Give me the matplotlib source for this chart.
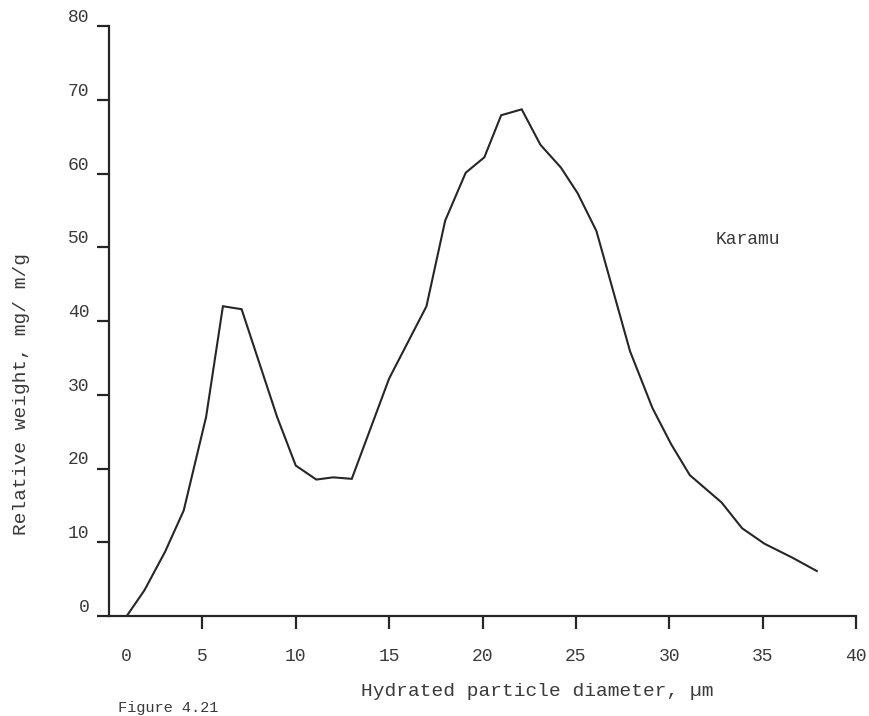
import matplotlib
matplotlib.use("Agg")
import matplotlib.pyplot as plt
from matplotlib.transforms import ScaledTranslation

# Particle size distribution (Karamu)
diameter_um = [0.95, 1.9, 3.0, 4.0, 5.2, 6.1, 7.1, 9.0, 10.0, 11.1, 12.0, 13.0,
               15.0, 17.0, 18.0, 19.1, 20.1, 21.0, 22.1, 23.1, 24.2, 25.1, 26.1,
               27.9, 29.1, 30.1, 31.1, 32.8, 33.9, 35.1, 36.6, 37.9]
relative_weight = [0.0, 3.5, 8.7, 14.3, 27.0, 42.0, 41.6, 27.0, 20.4, 18.5, 18.8, 18.6,
                   32.2, 42.0, 53.6, 60.1, 62.2, 67.9, 68.7, 63.9, 60.8, 57.3, 52.2,
                   35.9, 28.2, 23.3, 19.1, 15.4, 11.9, 9.8, 7.9, 6.1]

x_ticks = [0, 5, 10, 15, 20, 25, 30, 35, 40]
y_ticks = [0, 10, 20, 30, 40, 50, 60, 70, 80]
series_label = "Karamu"
x_title = "Hydrated particle diameter, \u00b5m"
y_title = "Relative weight, mg/ m/g"
caption = "Figure 4.21"

FONT = "Liberation Mono"
TEXT = "#3a3a3a"
INK = "#262626"

W, H, DPI = 869, 716, 100
fig = plt.figure(figsize=(W / DPI, H / DPI), dpi=DPI)
fig.patch.set_facecolor("white")

left, right, top, bottom = 109, 856, 26, 616
ax = fig.add_axes([left / W, 1 - bottom / H, (right - left) / W, (bottom - top) / H])

ax.plot(diameter_um, relative_weight, color=INK, lw=1.5, solid_joinstyle="miter")

ax.set_xlim(0, 40)
ax.set_ylim(0, 80)
for side in ("top", "right"):
    ax.spines[side].set_visible(False)
for side in ("left", "bottom"):
    ax.spines[side].set_color(INK)
    ax.spines[side].set_linewidth(1.6)

ax.set_xticks(x_ticks)
ax.set_yticks(y_ticks)
ax.set_xticklabels([str(v) for v in x_ticks])
ax.set_yticklabels([str(v) for v in y_ticks])
ax.tick_params(axis="both", direction="out", length=9, width=1.6, color=INK,
               labelsize=13, labelcolor=TEXT)
ax.tick_params(axis="x", pad=14)
ax.tick_params(axis="y", pad=5)

for lbl in ax.get_xticklabels() + ax.get_yticklabels():
    lbl.set_fontfamily(FONT)
for lbl in ax.get_yticklabels():
    lbl.set_va("bottom")

# the zero on the x axis has no tick mark and sits to the right of the origin
ax.xaxis.get_major_ticks()[0].tick1line.set_visible(False)
zero_lbl = ax.get_xticklabels()[0]
zero_lbl.set_transform(zero_lbl.get_transform() + ScaledTranslation(17 / DPI, 0, fig.dpi_scale_trans))

ax.text(34.2, 51.0, series_label, fontsize=13, family=FONT, color=TEXT,
        ha="center", va="center")

fig.text(537 / W, 1 - 691 / H, x_title, fontsize=14, family=FONT, color=TEXT,
         ha="center", va="center")
fig.text(22 / W, 1 - 394 / H, y_title, fontsize=14, family=FONT, color=TEXT,
         ha="center", va="center", rotation=90)
fig.text(118 / W, 1 - 715 / H, caption, fontsize=11, family=FONT, color=TEXT,
         ha="left", va="bottom")

fig.savefig("out.png", dpi=DPI, facecolor="white")
